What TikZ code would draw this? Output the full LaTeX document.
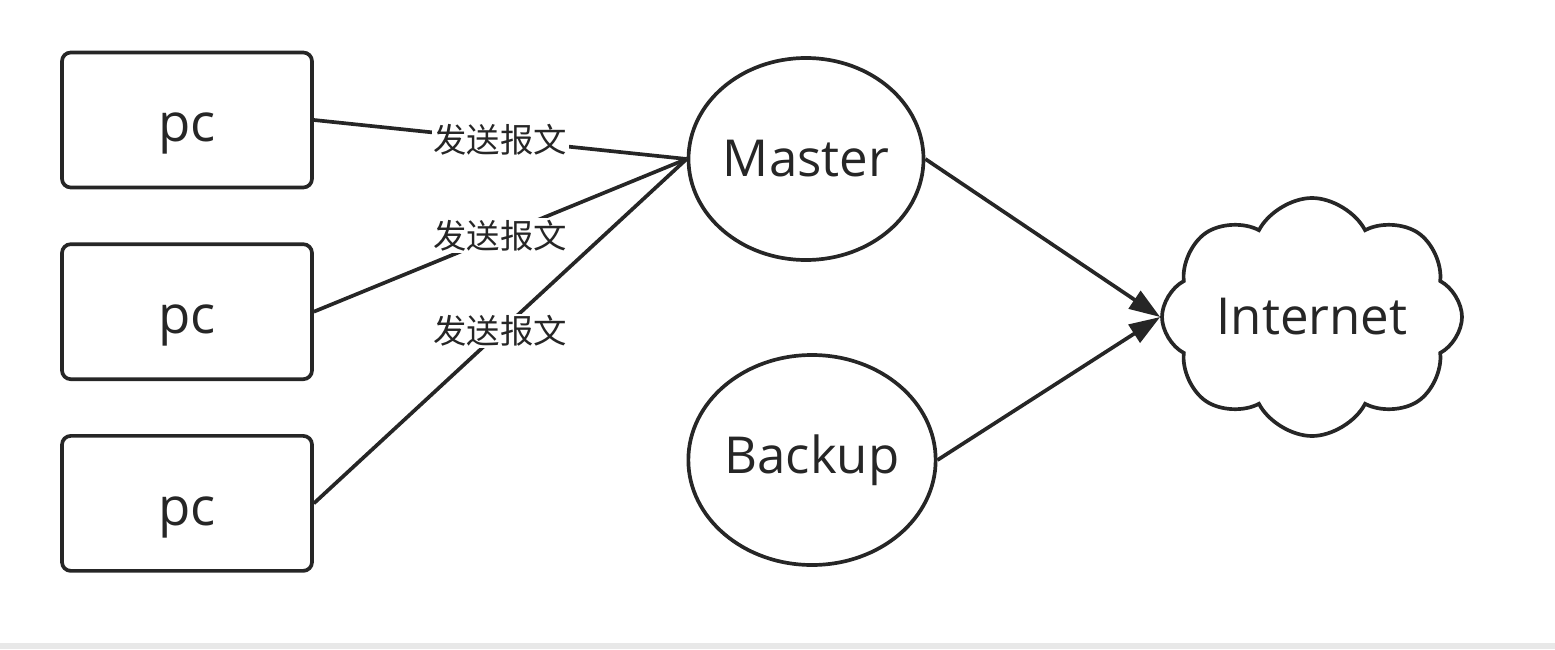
\documentclass[tikz,border=0pt]{standalone}
\usepackage{fontspec}
\setmainfont{Open Sans}
\newfontfamily\cjkfont{Noto Sans CJK SC}
\usepackage{tikz}
\usetikzlibrary{arrows.meta, positioning, shapes.geometric, shapes.symbols}

\begin{document}
\begin{tikzpicture}[
    node distance=1.06cm,
    >=Latex,
    linha/.style={draw=black!85, line width=2.1pt},
    caixa/.style={
        rectangle,
        rounded corners=5pt,
        linha,
        minimum width=5cm,
        minimum height=2.7cm,
        text height=0.88cm,
        text depth=0pt,
        font=\fontsize{30}{34}\selectfont,
        text=black!85
    },
    roteador/.style={
        ellipse,
        linha,
        inner sep=0pt,
        font=\fontsize{29}{34}\selectfont,
        text=black!85
    },
    nuvem/.style={
        cloud,
        cloud puffs=8,
        cloud puff arc=125,
        cloud ignores aspect,
        linha,
        minimum width=6cm,
        minimum height=4.76cm,
        font=\fontsize{29}{34}\selectfont,
        text=black!85
    },
    rotulo/.style={fill=white, inner sep=1pt, font=\cjkfont\fontsize{19}{22}\selectfont, text=black!85},
    envio/.style={linha},
    seta/.style={linha, -{Triangle[length=0.62cm, width=0.42cm]}}
]
\useasboundingbox (0,0) rectangle (31.1,12.98);
\fill[black!9] (0,0) rectangle (31.1,0.12);

% maquinas da rede local
\node[caixa] (pc1) at (3.74,10.58) {pc};
\node[caixa, below=of pc1] (pc2) {pc};
\node[caixa, below=of pc2] (pc3) {pc};

% roteadores
\node[roteador, minimum width=4.7cm, minimum height=4.04cm] (master) at (16.12,9.8) {Master};
\node[roteador, minimum width=4.8cm, minimum height=4.2cm] (backup) at (16.24,3.78) {Backup};

\node[nuvem] (net) at (26.24,6.64) {Internet};

\draw[envio] (pc1.east) -- node[rotulo] {发送报文} (master.west);
\draw[envio] (pc2.east) -- node[rotulo] {发送报文} (master.west);
\draw[envio] (pc3.east) -- node[rotulo] {发送报文} (master.west);

\draw[seta] (master.east) -- (net.west);
\draw[seta] (backup.east) -- (net.west);

\end{tikzpicture}
\end{document}
